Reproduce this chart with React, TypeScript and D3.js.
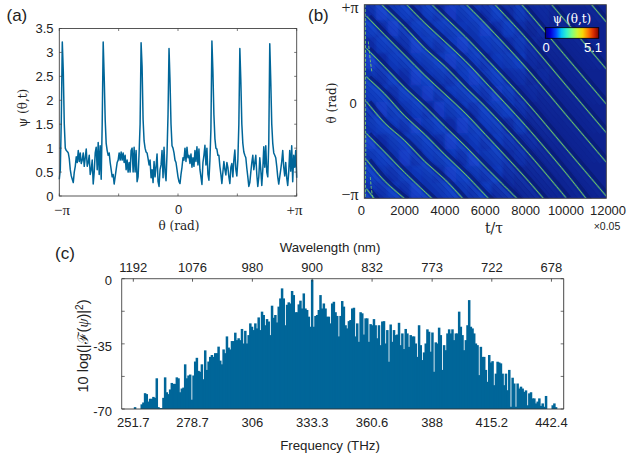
import React from "react";
import * as d3 from "d3";

const amplitude = [
.35,.55,1.6,3.22,2.6,1.5,1.0,.95,.93,.9,.78,.55,.42,.35,.28,.5,.62,.82,.7,.95,.72,.9,.68,.75,.9,.62,.8,.98,.62,.7,.85,.45,.55,.75,.25,.5,.9,1.02,.55,1.12,.45,1.05,.35,1.5,
3.22,2.5,1.6,1.1,.95,.85,.9,.7,.55,.4,.45,.25,.4,.55,.7,.75,.9,.75,.92,.75,.9,.7,.85,.55,.75,.5,.7,.5,.95,1.0,.5,1.02,.5,.95,.3,.4,.9,1.5,
3.2,2.7,1.6,1.15,1.0,.92,.9,.78,.65,.75,.38,.55,.28,.72,.4,.62,.88,.3,.2,.55,.65,.95,.38,1.02,.5,.32,.9,1.7,
3.08,2.4,1.5,1.05,1.0,.9,.75,.7,.55,.4,.3,.26,.45,.6,.8,.75,1.0,.72,1.02,.8,.85,.68,.88,.6,.8,.62,.95,.72,1.03,.65,.98,.55,.4,.24,.7,.85,1.06,.65,1.0,.45,.33,.75,1.4,
3.24,2.6,1.7,1.2,1.0,.98,.85,.85,.62,.45,.26,.5,.72,.55,.44,.7,.6,.4,.26,.6,.68,.4,.75,.96,.55,.42,.75,1.5,
3.08,2.4,1.5,1.1,.92,.85,.8,.58,.4,.2,.28,.5,.7,.85,.55,.7,.85,.45,.2,.4,.8,.55,.22,.55,1.03,.6,1.05,.5,.4,1.1,
3.18,2.4,1.5,1.1,.9,.85,.8,.62,.4,.25,.4,.55,.72,.95,.6,.42,.7,.38,.22,.5,.95,.52,1.05,.3,.85,.6,.95,.38];

const spectrumLow = [
-70,-70,-70,-70,-70,-70,-70,-70,-69,-70,-70,-70,-67.5,-66.5,-61.5,-62,-66,-64.5,-64.5,-63.5,-64,-53.5,-69,-69.5,-69.5,-64,-53,-61,-62,-59.5,-56,-56.5,-56.5,-53,-53.5,-61,-59,-58.5,-46,-53.5,-52,-51.5,-65,-52,-44.5,-42.5,-49.5,-50,-46,-54,-38.5,-49,-44.5,-42,-41,-42,-40,-40,-36.5,-44,-46,-38,-40,-31,-37,-38,-33.5,-33.5,-29];
const spectrumMidLow = [
-33,-32,-33,-27,-34.8,-28,-34.8,-30.3,-24,-25.8,-27.6,-24,-26.7,-20.8,-27.6,-17.7,-19.5,-25,-21.7,-23,-30.3,-14.5,-21,-19.5,-23.5,-15,-10.6,-5.2,-10.6,-25,-14,-12.7,-13.3,-6.6,-8.8,-18,-18,-13.8,-11.8,-16,-7.9,-16,-16.8,-20.4,-25.8,-0.5,-25.8,-20,-19.5,-16.8,-8.8,-16,-13.3,-16,-20.4,-20.4,-24,-13.3,-12.4,-18,-20,-31,-20,-12,-15,-25];
const spectrumMidHigh = [
-26.7,-22.8,-22.2,-16,-15.6,-31,-24,-33.9,-18,-18.6,-30,-21.3,-21.3,-33.9,-24.4,-25,-21.7,-25,-32,-25,-35.7,-23,-22.8,-34.8,-27.6,-44.6,-24.6,-33.9,-27.6,-30.3,-30,-23.7,-35.7,-29.4,-37.8,-27,-29.4,-36.6,-30.3,-31,-31,-34.8,-42,-25,-35.7,-43.7,-39.6,-34.8,-27.2,-28.5,-39.2,-28.9,-50,-34.2,-34.8,-26.3,-30.3,-49,-35.7,-38.4,-29.4,-27.2,-29.4,-27.2,-33,-29.4];
const spectrumHigh = [
-29.4,-17.7,-25.8,-30.3,-38.4,-33,-25,-11.5,-25.8,-26.7,-29.4,-34.8,-35.7,-51.8,-36.6,-42,-42,-49,-55.4,-41,-45,-44.3,-57.2,-51,-44.6,-45,-45.5,-51,-57.2,-51,-59.9,-49,-68.8,-53.2,-56.3,-68.8,-56.3,-59,-58,-59,-60.8,-60,-68,-61.6,-61,-64.3,-64.3,-67,-66,-64.3,-68.3,-67,-68.8,-63,-70,-70,-70,-68,-67,-69,-70,-70,-70,-70,-70];
const spectrum = [...spectrumLow, ...spectrumMidLow, ...spectrumMidHigh, ...spectrumHigh];

const solitons: [number, number][][] = [
  [[100,.883],[1000,.69],[2000,.48],[3000,.27],[4000,.076],[5000,-.12],[6000,-.34],[8000,-.79],[9000,-1.03]],
  [[100,.549],[1000,.36],[2000,.145],[3000,-.05],[4000,-.258],[5000,-.46],[6000,-.675],[7800,-1.05]],
  [[100,.256],[1000,.08],[2000,-.148],[3000,-.34],[4000,-.551],[5000,-.75],[6000,-.968],[6300,-1.03]],
  [[100,0],[1000,-.22],[2000,-.404],[3000,-.62],[4000,-.807],[5000,-1.03]],
  [[100,-.33],[1000,-.52],[2000,-.734],[3500,-1.03]],
  [[100,-.6],[1000,-.82],[2000,-1.004]],
  [[100,-.9],[600,-1.03]],
  [[860,1],[2000,.77],[3000,.55],[4000,.363],[5000,.15],[6000,-.054],[8000,-.503],[10000,-.994]],
  [[2100,1],[3000,.81],[4000,.617],[5000,.42],[6000,.2],[8000,-.25],[10000,-.74],[11100,-1.03]],
  [[3355,1],[4000,.87],[5000,.67],[6000,.453],[8000,.004],[10000,-.487],[12000,-.978]],
  [[5060,1],[6000,.803],[8000,.354],[10000,-.137],[12000,-.628]],
  [[6480,1],[8000,.659],[10000,.168],[12000,-.323]],
  [[7800,1],[8000,.955],[10000,.464],[12000,-.027]],
  [[9290,1],[10000,.826],[12000,.335]],
  [[11270,1],[12000,.82]],
];
const transient: [number, number][][] = [
  [[40,1],[60,.5],[50,0],[70,-.5],[50,-1]],
  [[200,.62],[300,.42],[380,.3]],
  [[300,-.78],[350,-.9],[420,-1]],
];
const mottle = [
  "475646475646353322222",
  "647465656574642322222",
  "465476467565453222222",
  "746565675646563222222",
  "546476546756442322222",
  "664657465647533222222",
  "475564756465642222222",
  "566475647565352222222",
  "745656475646433222222",
  "565746564755342222222",
  "654565476546322222222",
  "546475565463322222222",
];
const streakOffsets = [-5.5, -11, -16.5];
const streakAlpha = [0.4, 0.22, 0.16];
const cbarStops = ["#00007f","#0000ff","#00bfff","#40ffc0","#c0ff40","#ffd000","#ff4000","#7f0000"];

const wavelengths = ["1192","1076","980","900","832","773","722","678"];
const freqTicks = [251.7,278.7,306,333.3,360.6,388,415.2,442.4];
const blue = "#006699";
const sans = "'Liberation Sans', Arial, sans-serif";
const serif = "'DejaVu Serif', serif";
const lserif = "'Liberation Serif', serif";
const frame = "#444";

const A = { l: 59.3, r: 296.7, t: 28.5, b: 196 };
const B = { l: 364.3, r: 606.3, t: 4.7, b: 198.3 };
const C = { l: 121.7, r: 563.7, t: 278.7, b: 409 };

const xA = d3.scaleLinear().domain([-Math.PI, Math.PI]).range([A.l, A.r]);
const yA = d3.scaleLinear().domain([0, 3.5]).range([A.b, A.t]);
const xB = d3.scaleLinear().domain([0, 12000]).range([B.l, B.r]);
const yB = d3.scaleLinear().domain([-1, 1]).range([B.b, B.t]);
const xC = d3.scaleLinear().domain([246.4, 448]).range([C.l, C.r]);
const yC = d3.scaleLinear().domain([-70, 0]).range([C.b, C.t]);

const lineA = d3.line<number>()
  .x((_, i) => xA(-Math.PI + (i * 2 * Math.PI) / (amplitude.length - 1)))
  .y((d) => yA(d))(amplitude) as string;
const lineB = d3.line<[number, number]>().x((d) => xB(d[0])).y((d) => yB(d[1])).curve(d3.curveCatmullRom);
const cbarColor = d3.scaleLinear<string>().domain(cbarStops.map((_, i) => i / (cbarStops.length - 1))).range(cbarStops);
const cellColor = d3.scaleLinear<string>().domain([2, 7]).range(["#0a2490", "#1238c0"]);
const freqStep = 0.762;
const freqAt = (i: number) => 246.4 + i * freqStep;

function T({ x, y, children, size = 13, anchor = "middle", fill = "#222", font = sans, rot }: any) {
  return (
    <text x={x} y={y} fontSize={size} textAnchor={anchor} fill={fill} fontFamily={font} dominantBaseline="central"
      transform={rot ? `rotate(${rot} ${x} ${y})` : undefined}>{children}</text>
  );
}

export default function App() {
  const cols = mottle[0].length;
  const cw = (B.r - B.l) / cols;
  const ch = (B.b - B.t) / mottle.length;
  return (
    <svg width={628} height={453} style={{ position: "absolute", left: 0, top: 0, background: "#fff" }}>
      <defs>
        <clipPath id="clipB"><rect x={B.l} y={B.t} width={B.r - B.l} height={B.b - B.t} /></clipPath>
        <filter id="blur3" x="-5%" y="-5%" width="110%" height="110%"><feGaussianBlur stdDeviation="1.8" /></filter>
        <filter id="soft" x="-5%" y="-5%" width="110%" height="110%"><feGaussianBlur stdDeviation="0.3" /></filter>
        <linearGradient id="cbar">
          {d3.range(0, 1.001, 0.1).map((o) => <stop key={o} offset={o} stopColor={cbarColor(o)} />)}
        </linearGradient>
        <linearGradient id="fade" gradientUnits="userSpaceOnUse" x1={B.l} x2={B.r} y1={0} y2={0}>
          <stop offset="0.55" stopColor="#fff" />
          <stop offset="0.8" stopColor="#333" />
        </linearGradient>
        <mask id="fadeMask" maskUnits="userSpaceOnUse" x={B.l} y={B.t} width={B.r - B.l} height={B.b - B.t}>
          <rect x={B.l} y={B.t} width={B.r - B.l} height={B.b - B.t} fill="url(#fade)" />
        </mask>
      </defs>

      {/* (a) */}
      <T x={6.5} y={15} size={17} anchor="start">(a)</T>
      <path d={lineA} fill="none" stroke={blue} strokeWidth={1.5} strokeLinejoin="round" filter="url(#soft)" />
      <rect x={A.l} y={A.t} width={A.r - A.l} height={A.b - A.t} fill="none" stroke={frame} strokeWidth={0.9} />
      {d3.range(0, 3.51, 0.5).map((v) => (
        <g key={v}>
          <path d={`M${A.l} ${yA(v)}h2.5M${A.r} ${yA(v)}h-2.5`} stroke={frame} strokeWidth={0.7} />
          <T x={53.5} y={yA(v)} anchor="end">{v}</T>
        </g>
      ))}
      {[-1, -0.5, 0, 0.5, 1].map((v) => (
        <path key={v} d={`M${xA(v * Math.PI)} ${A.b}v-2.5M${xA(v * Math.PI)} ${A.t}v2.5`} stroke={frame} strokeWidth={0.7} />
      ))}
      <T x={62} y={209.5} size={15} font={lserif}>−π</T>
      <T x={178.5} y={209}>0</T>
      <T x={294.5} y={209.5} size={15} font={lserif}>+π</T>
      <T x={179} y={226} size={12} font={serif}>θ (rad)</T>
      <T x={23} y={108} size={12} font={serif} rot={-90}>ψ (θ,t)</T>

      {/* (b) */}
      <T x={308} y={15} size={17} anchor="start">(b)</T>
      <rect x={B.l} y={B.t} width={B.r - B.l} height={B.b - B.t} fill="#0a2490" />
      <g clipPath="url(#clipB)">
        <g filter="url(#blur3)">
          {mottle.map((row, r) => row.split("").map((c, k) => (
            <rect key={`${r}-${k}`} x={B.l + k * cw} y={B.t + r * ch} width={cw + 0.5} height={ch + 0.5} fill={cellColor(+c)} />
          )))}
        </g>
        <g mask="url(#fadeMask)">
          {streakOffsets.map((o, oi) => solitons.map((s, i) => (
            <path key={`s${oi}-${i}`} d={lineB(s) as string} transform={`translate(${o},0)`} fill="none" stroke="#2060e0" strokeOpacity={streakAlpha[oi]} strokeWidth={3.5} />
          )))}
        </g>
        {solitons.map((s, i) => (
          <path key={"d" + i} d={lineB(s) as string} transform="translate(3.5,0)" fill="none" stroke="#081a70" strokeOpacity={0.7} strokeWidth={3.5} />
        ))}
        {solitons.map((s, i) => (
          <path key={"c" + i} d={lineB(s) as string} fill="none" stroke="#18a8c8" strokeOpacity={0.3} strokeWidth={2.2} />
        ))}
        {solitons.map((s, i) => (
          <path key={"g" + i} d={lineB(s) as string} fill="none" stroke="#7fbf50" strokeWidth={1} />
        ))}
        {transient.map((s, i) => (
          <path key={"t" + i} d={lineB(s) as string} fill="none" stroke="#70c070" strokeWidth={1} strokeDasharray="3 1.5" />
        ))}
      </g>
      <rect x={B.l} y={B.t} width={B.r - B.l} height={B.b - B.t} fill="none" stroke={frame} strokeWidth={0.9} />
      <rect x={545.3} y={27.7} width={53.5} height={10.6} fill="url(#cbar)" stroke="#000" strokeWidth={0.8} />
      <T x={572} y={18.5} size={12} font={serif} fill="#fff">ψ (θ,t)</T>
      <T x={546} y={47.5} fill="#fff">0</T>
      <T x={593} y={47.5} fill="#fff">5.1</T>
      <T x={358.5} y={7.5} size={16} anchor="end" font={lserif}>+π</T>
      <T x={353} y={103}>0</T>
      <T x={358.5} y={194.5} size={16} anchor="end" font={lserif}>−π</T>
      <T x={332} y={103} size={12} font={serif} rot={-90}>θ (rad)</T>
      {[0, 2000, 4000, 6000, 8000, 10000, 12000].map((v) => (
        <T key={v} x={v === 12000 ? 608 : xB(v) - (v === 0 ? 3 : 0)} y={210}>{v}</T>
      ))}
      <T x={494} y={228} size={14} font={serif}>t/τ</T>
      <T x={607} y={226} size={10.5}>×0.05</T>

      {/* (c) */}
      <T x={55} y={253} size={17} anchor="start">(c)</T>
      <T x={330} y={247} size={13.3}>Wavelength (nm)</T>
      <T x={330} y={445} size={13.3}>Frequency (THz)</T>
      <g filter="url(#soft)">
        {spectrum.map((v, i) => v > -70 && (
          <rect key={i} x={xC(freqAt(i)) - 1.25} y={yC(v)} width={2.5} height={C.b - yC(v)} fill={blue} />
        ))}
      </g>
      <path d={`M${C.l} ${C.b}V${C.t}`} stroke={frame} fill="none" strokeWidth={0.9} />
      <path d={`M${C.l} ${C.b}H${C.r}V${C.t}`} stroke="#333" fill="none" strokeWidth={0.9} />
      <path d={`M${C.l} ${C.t}H${C.r}`} stroke="#777" fill="none" strokeWidth={1.3} />
      {freqTicks.map((f, i) => (
        <g key={f}>
          <path d={`M${xC(f)} ${C.t}v3`} stroke="#333" strokeWidth={0.8} />
          <T x={xC(f)} y={422.7}>{f}</T>
          <T x={xC(f)} y={267}>{wavelengths[i]}</T>
        </g>
      ))}
      {[0, -17.5, -35, -52.5, -70].map((v) => (
        <path key={v} d={`M${C.l} ${yC(v)}h3M${C.r} ${yC(v)}h-3`} stroke="#333" strokeWidth={0.7} />
      ))}
      <T x={112} y={280} anchor="end">0</T>
      <T x={112} y={346} anchor="end">-35</T>
      <T x={112} y={411.5} anchor="end">-70</T>
      <g transform="translate(83 346) rotate(-90)">
        <text textAnchor="middle" dominantBaseline="central" fontSize={14.5} fill="#222" fontFamily={sans}>
          10 log(|<tspan fontFamily="'DejaVu Serif', serif">ℱ</tspan>(<tspan fontFamily={lserif} fontStyle="italic">ψ</tspan>)|<tspan dy="-4" fontSize={10}>2</tspan><tspan dy="4">)</tspan>
        </text>
      </g>
    </svg>
  );
}
